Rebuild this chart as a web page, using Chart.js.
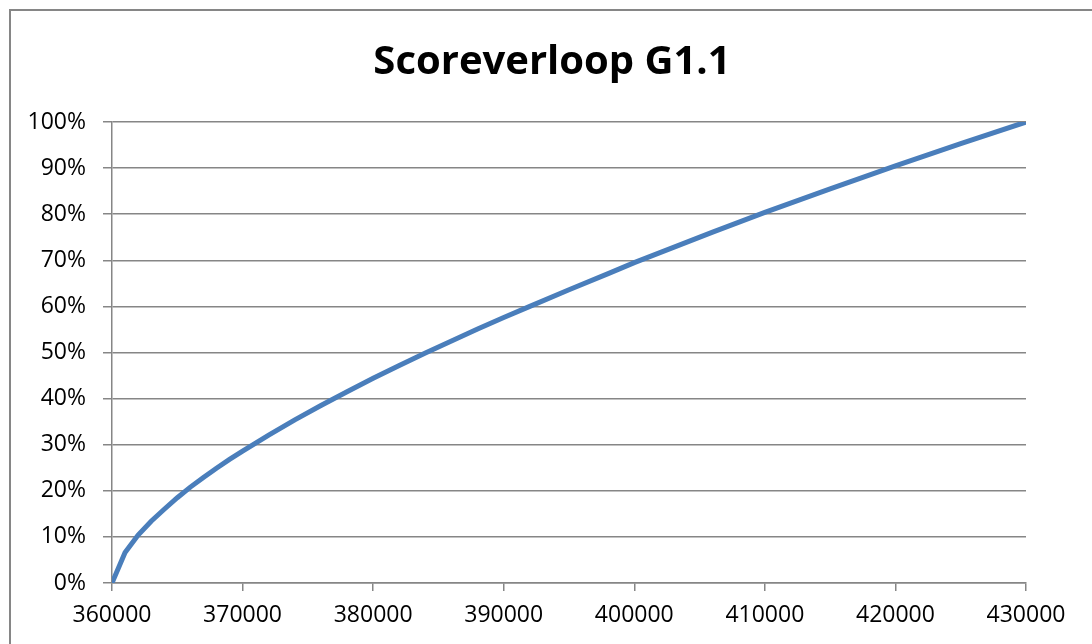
<!DOCTYPE html>
<html>
<head>
<meta charset="utf-8">
<script src="https://cdn.jsdelivr.net/npm/chart.js@4/dist/chart.umd.min.js"></script>
<style>
  html, body { margin: 0; padding: 0; background: #fff; overflow: hidden; }
  #frame {
    position: absolute; left: 9px; top: 9px;
    width: 2000px; height: 2000px;
    border: 2px solid #868686;
  }
  #chart { position: absolute; left: 0; top: 0; }
</style>
</head>
<body>
<div id="frame"></div>
<canvas id="chart" width="1092" height="644"></canvas>
<script>
var chartTitle = 'Scoreverloop G1.1';

// score values (x) and cumulative percentage (y)
var scores = [
  360000, 361000, 362000, 363000, 364000, 365000, 366000, 367000,
  368000, 369000, 370000, 372000, 374000, 376000, 378000, 380000,
  382000, 384000, 386000, 388000, 390000, 392000, 395000, 398000,
  400000, 403000, 406000, 410000, 415000, 420000, 425000, 430000
];
var percentages = [
  0, 6.6, 10.4, 13.4, 16.0, 18.5, 20.8, 22.9,
  24.9, 26.8, 28.6, 32.1, 35.4, 38.5, 41.5, 44.4,
  47.2, 49.9, 52.5, 55.1, 57.6, 60.0, 63.6, 67.1,
  69.5, 72.8, 76.1, 80.4, 85.5, 90.5, 95.3, 100
];

var xTicks = [360000, 370000, 380000, 390000, 400000, 410000, 420000, 430000];

var gridColor = '#868686';
var lineColor = '#4a7ebb';

var points = scores.map(function(s, i) {
  return { x: s, y: percentages[i] };
});

var config = {
  type: 'line',
  data: {
    datasets: [{
      label: chartTitle,
      data: points,
      borderColor: lineColor,
      borderWidth: 5,
      pointRadius: 0,
      tension: 0,
      fill: false
    }]
  },
  options: {
    responsive: false,
    animation: false,
    layout: { padding: { left: 12, right: 0, top: 0, bottom: 0 } },
    plugins: {
      legend: { display: false },
      tooltip: { enabled: false },
      title: {
        display: true,
        text: chartTitle,
        color: '#000',
        font: { family: 'Open Sans', size: 40, weight: 'bold' },
        padding: { top: 39, bottom: 35 }
      }
    },
    scales: {
      x: {
        type: 'linear',
        min: xTicks[0],
        max: xTicks[xTicks.length - 1],
        afterBuildTicks: function(scale) {
          scale.ticks = xTicks.map(function(v) { return { value: v }; });
        },
        afterFit: function(scale) { scale.height = 61; },
        grid: {
          drawOnChartArea: false,
          drawTicks: true,
          tickLength: 8,
          color: gridColor,
          lineWidth: 1.5
        },
        border: { display: true, color: gridColor, width: 1.5 },
        ticks: {
          color: '#000',
          padding: 11,
          maxRotation: 0,
          font: { family: 'Open Sans', size: 23 },
          callback: function(v) { return String(v); }
        }
      },
      y: {
        min: 0,
        max: 100,
        afterFit: function(scale) { scale.width = 100; },
        grid: {
          drawOnChartArea: true,
          drawTicks: true,
          tickLength: 9,
          color: gridColor,
          lineWidth: 1.5
        },
        border: { display: true, color: gridColor, width: 1.5 },
        ticks: {
          stepSize: 10,
          color: '#000',
          padding: 17,
          font: { family: 'Open Sans', size: 23 },
          callback: function(v) { return v + '%'; }
        }
      },
      yRight: {
        position: 'right',
        display: true,
        afterFit: function(scale) { scale.width = 66; },
        grid: { display: false },
        border: { display: false },
        ticks: { display: false }
      }
    }
  }
};

window.onload = function() {
  var ctx = document.getElementById('chart').getContext('2d');
  window.myLine = new Chart(ctx, config);
};
</script>
</body>
</html>
